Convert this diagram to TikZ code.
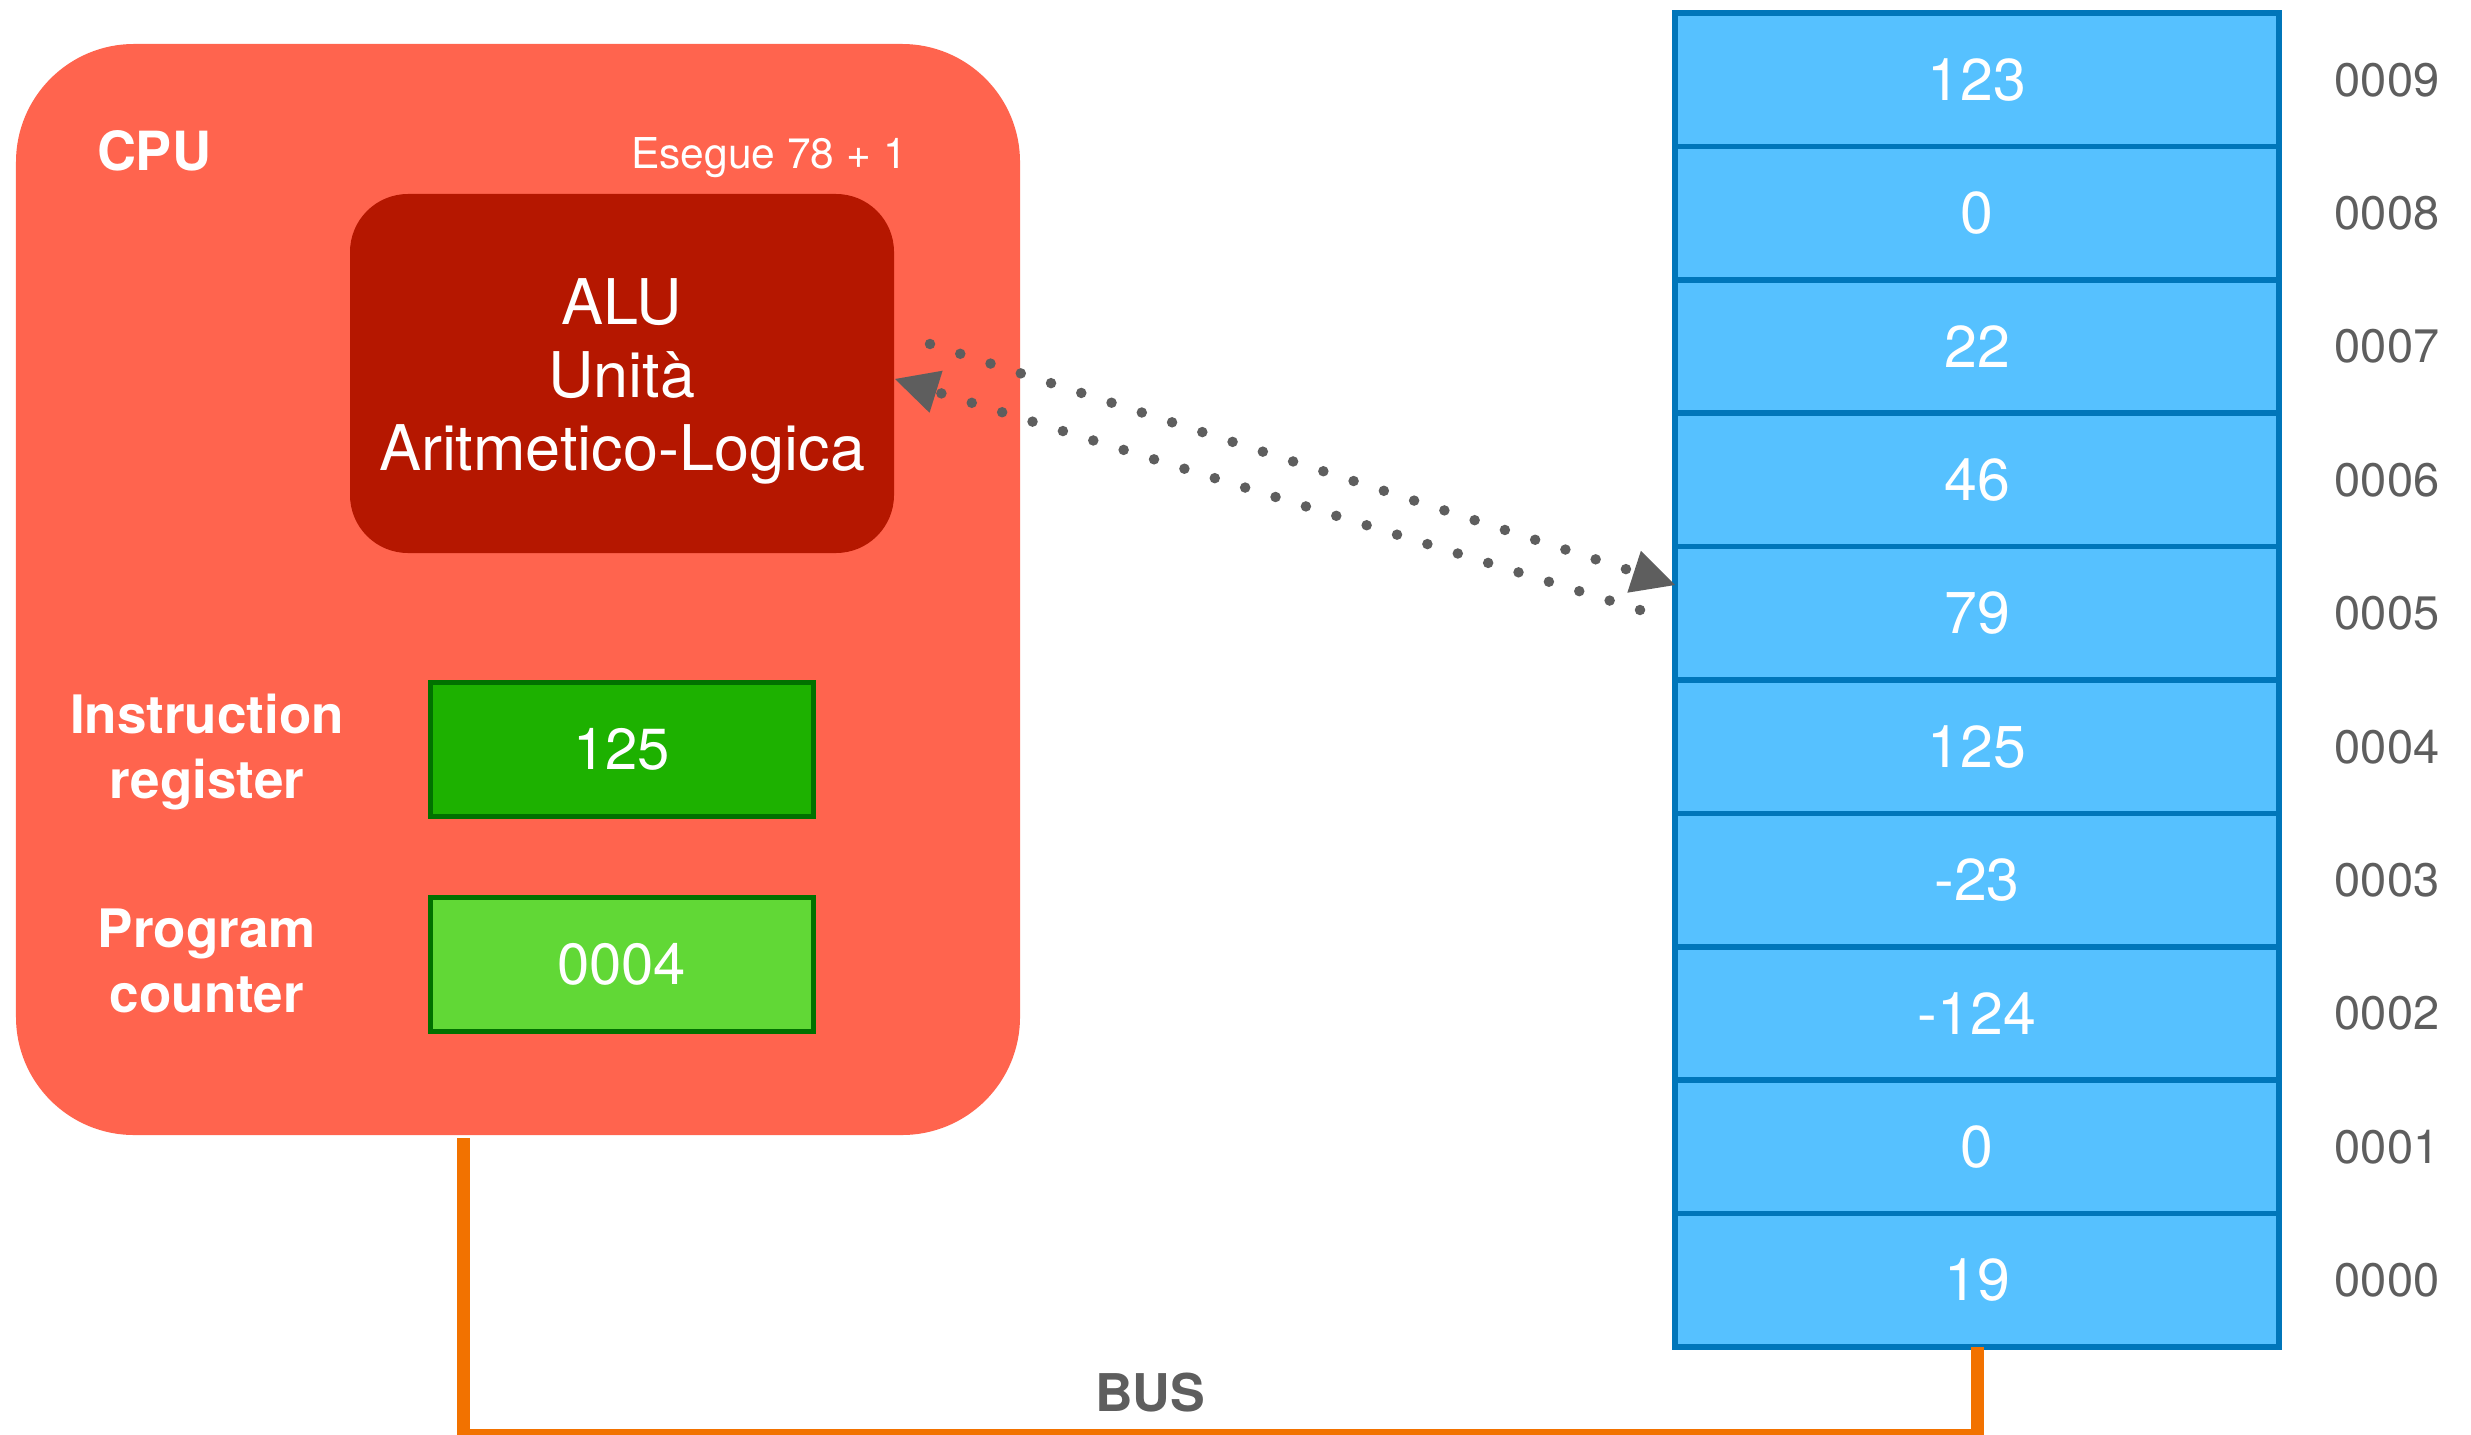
\documentclass[tikz,border=0pt]{standalone}
\usepackage{fontspec}
\setmainfont{TeX Gyre Heros}
\usetikzlibrary{arrows.meta}
\definecolor{cpuc}{HTML}{FF644E}
\definecolor{aluc}{HTML}{B51700}
\definecolor{irc}{HTML}{1DB100}
\definecolor{pcc}{HTML}{61D836}
\definecolor{regb}{HTML}{017100}
\definecolor{memc}{HTML}{56C1FF}
\definecolor{memb}{HTML}{0076BA}
\definecolor{busc}{HTML}{F27200}
\definecolor{txtg}{HTML}{5E5E5E}
\begin{document}
\begin{tikzpicture}[x=1bp,y=-1bp,
 box/.style={rectangle,inner sep=0pt,outer sep=0pt},
 cpubox/.style={box,fill=cpuc,rounded corners=118bp,minimum width=1004bp,minimum height=1091bp},
 alubox/.style={box,fill=aluc,rounded corners=58bp,minimum width=544bp,minimum height=359bp,text=white,align=center,font=\fontsize{63bp}{73bp}\selectfont},
 regbox/.style={box,draw=regb,line width=5bp,minimum width=383bp,minimum height=134bp,text=white,font=\fontsize{58bp}{68bp}\selectfont},
 memcell/.style={box,fill=memc,draw=memb,line width=5.5bp,minimum width=604bp,minimum height=133.4bp,text=white,font=\fontsize{59bp}{68bp}\selectfont},
 addr/.style={inner sep=0pt,text=txtg,font=\fontsize{47bp}{56bp}\selectfont},
 lbl/.style={inner sep=0pt,text=white,align=center,font=\bfseries\fontsize{53bp}{65bp}\selectfont},
 flow/.style={draw=txtg,line width=10.5bp,line cap=round,dash pattern=on 0bp off 31.8bp,-{Triangle[length=43bp,width=44bp,line width=0pt]}},
 bus/.style={draw=busc,line width=13bp}]
\useasboundingbox (0,0) rectangle (2471,1435);

% CPU
\node[cpubox] (cpu) at (518,589.5) {};
\node[inner sep=0pt,anchor=base,text=white,font=\bfseries\fontsize{54bp}{64bp}\selectfont] (cpulbl) at (154,171) {CPU};
\node[inner sep=0pt,anchor=base,text=white,font=\fontsize{42.5bp}{50bp}\selectfont] (exec) at (769,169) {Esegue 78 + 1};
\node[alubox] (alu) at (622,373.5) {};
\node[inner sep=0pt,align=center,text=white,font=\fontsize{63bp}{73bp}\selectfont] (alutxt) at (622,381) {ALU\\Unità\\Aritmetico-Logica};
\node[lbl] (irlbl) at (207,752) {Instruction\\register};
\node[regbox,fill=irc] (ir) at (621.5,749) {125};
\node[lbl] (pclbl) at (207,961) {Program\\counter};
\node[regbox,fill=pcc] (pc) at (621.5,964) {0004};

% Memory
\foreach \v/\a [count=\k from 0] in {123/0009,0/0008,22/0007,46/0006,79/0005,125/0004,-23/0003,-124/0002,0/0001,19/0000}{
  \node[memcell] (m\a) at (1977,{79.7+133.4*\k}) {\v};
  \node[addr] (ad\a) at (2387,{79.7+133.4*\k}) {\a};
}

% data flow
\coordinate (f1s) at (930,344);
\coordinate (f1e) at (1675,585);
\coordinate (f2s) at (1640,610);
\coordinate (f2e) at (895,379);
\draw[flow] (f1s) -- (f1e);
\draw[flow] (f2s) -- (f2e);

% bus
\coordinate (b1) at (463,1138);
\coordinate (b2) at (463,1435);
\draw[bus] (b1) -- (b2) -- (b2 -| m0000.south) -- (m0000.south);
\node[inner sep=0pt,text=txtg,font=\bfseries\fontsize{52bp}{62bp}\selectfont] (buslbl) at (1150,1393) {BUS};
\end{tikzpicture}
\end{document}
